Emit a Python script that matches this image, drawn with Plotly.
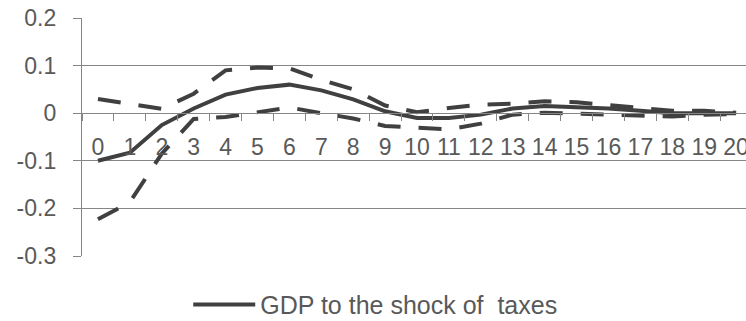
import plotly.graph_objects as go

# Quarters after the shock
periods = [str(i) for i in range(21)]

# Impulse response of GDP to a tax shock, with upper and lower bands
gdp_response = [-0.100, -0.083, -0.025, 0.010, 0.039, 0.053, 0.060, 0.048, 0.029, 0.004,
                -0.010, -0.010, -0.003, 0.010, 0.015, 0.013, 0.010, 0.005, 0.000, 0.000, 0.000]
upper_band = [0.030, 0.020, 0.009, 0.041, 0.090, 0.096, 0.094, 0.070, 0.050, 0.016,
              0.002, 0.011, 0.018, 0.020, 0.025, 0.023, 0.017, 0.009, 0.005, 0.005, 0.001]
lower_band = [-0.223, -0.187, -0.085, -0.012, -0.008, 0.003, 0.012, 0.000, -0.011, -0.027,
              -0.031, -0.034, -0.022, -0.003, 0.001, -0.001, -0.003, -0.007, -0.007, -0.003, -0.002]

y_ticks = [0.2, 0.1, 0, -0.1, -0.2, -0.3]
y_tick_text = ["0.2", "0.1", "0", "-0.1", "-0.2", "-0.3"]

line_color = "#404040"
grid_color = "#868686"
text_color = "#595959"
font_family = "Liberation Sans, Arial, sans-serif"

fig = go.Figure()
fig.add_trace(go.Scatter(x=periods, y=upper_band, mode="lines", showlegend=False,
                         line=dict(color=line_color, width=4, dash="23px,18px")))
fig.add_trace(go.Scatter(x=periods, y=lower_band, mode="lines", showlegend=False,
                         line=dict(color=line_color, width=4, dash="23px,18px")))
fig.add_trace(go.Scatter(x=periods, y=gdp_response, mode="lines",
                         name="GDP to the shock of  taxes",
                         line=dict(color=line_color, width=4)))

fig.update_layout(
    width=746, height=321,
    margin=dict(l=82, r=0, t=18, b=65, autoexpand=False),
    plot_bgcolor="white", paper_bgcolor="white",
    font=dict(family=font_family, size=22, color=text_color),
    xaxis=dict(
        type="category", range=[-0.5, 20.31],
        anchor="free", position=0.6,
        showgrid=False, zeroline=False,
        showline=True, linecolor=grid_color, linewidth=1.3,
        ticks="outside", tickson="boundaries", ticklen=7,
        tickcolor=grid_color, tickwidth=1.3,
        tickangle=0, automargin=False,
        tickfont=dict(size=23, color=text_color),
        ticklabelstandoff=13,
    ),
    yaxis=dict(
        range=[-0.3, 0.2], tickvals=y_ticks, ticktext=y_tick_text,
        showgrid=True, gridcolor=grid_color, gridwidth=1.3,
        zeroline=False, automargin=False,
        showline=True, linecolor=grid_color, linewidth=1.3,
        ticks="outside", ticklen=8, tickcolor=grid_color, tickwidth=1.3,
        tickfont=dict(size=23, color=text_color),
        ticklabelstandoff=12,
    ),
    legend=dict(orientation="h", x=0.16, xanchor="left", y=-0.205, yanchor="middle",
                font=dict(size=25, color=text_color), itemwidth=62,
                bgcolor="rgba(0,0,0,0)"),
)

fig.write_html("out.html")
